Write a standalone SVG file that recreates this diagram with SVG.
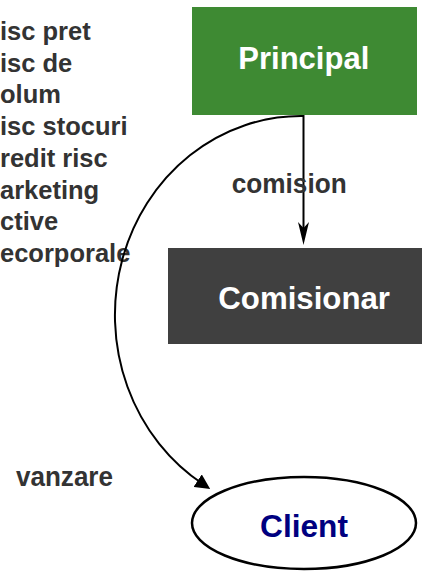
<svg xmlns="http://www.w3.org/2000/svg" width="422" height="571" viewBox="0 0 422 571">
  <style>
    text { font-family: "Liberation Sans", Arial, sans-serif; font-weight: bold; }
    .note { font-size: 25.5px; fill: #333333; }
    .lbl { font-size: 27.5px; fill: #333333; }
    .title { font-size: 30.5px; fill: #ffffff; }
    .conn { fill: none; stroke: #000000; stroke-width: 2; }
  </style>
  <defs>
    <marker id="stealth" viewBox="0 0 23 11" refX="15" refY="5.5" markerWidth="23" markerHeight="11" markerUnits="userSpaceOnUse" orient="auto">
      <path d="M0,0 L23,5.5 L0,11 L6,5.5 Z" fill="#000000"/>
    </marker>
    <marker id="tri" viewBox="0 0 15 15" refX="7" refY="7.5" markerWidth="15" markerHeight="15" markerUnits="userSpaceOnUse" orient="auto">
      <path d="M0,0 L15,7.5 L0,15 Z" fill="#000000"/>
    </marker>
  </defs>
  <rect width="422" height="571" fill="#ffffff"/>

  <g id="notes">
    <text class="note" x="0" y="40">isc pret</text>
    <text class="note" x="0" y="71.7">isc de</text>
    <text class="note" x="0" y="103.4">olum</text>
    <text class="note" x="0" y="135">isc stocuri</text>
    <text class="note" x="0" y="166.8">redit risc</text>
    <text class="note" x="0" y="198.5">arketing</text>
    <text class="note" x="0" y="230.2">ctive</text>
    <text class="note" x="0" y="262">ecorporale</text>
  </g>

  <g id="principal">
    <rect x="192" y="7" width="225" height="108" fill="#3e8a33"/>
    <text class="title" x="238.3" y="68.5" textLength="131" lengthAdjust="spacingAndGlyphs">Principal</text>
  </g>

  <g id="comisionar">
    <rect x="168" y="248" width="254" height="96" fill="#404040"/>
    <text class="title" x="218.3" y="308.5" textLength="171.7" lengthAdjust="spacingAndGlyphs">Comisionar</text>
  </g>

  <g id="client">
    <ellipse cx="304" cy="523" rx="112" ry="46" fill="#ffffff" stroke="#000000" stroke-width="2.5"/>
    <text x="260" y="537" font-size="30.5" fill="#000080" textLength="88" lengthAdjust="spacingAndGlyphs">Client</text>
  </g>

  <g id="connectors">
    <path id="e-comision" class="conn" d="M303.5,115 L303.5,237" stroke-width="2.3" marker-end="url(#stealth)"/>
    <path id="e-vanzare" class="conn" d="M303,116 A186,199 0 0 0 203.5,484.5" marker-end="url(#tri)"/>
    <text class="lbl" x="231.7" y="192.5" textLength="115" lengthAdjust="spacingAndGlyphs">comision</text>
    <text class="lbl" x="16" y="485.7" font-size="27" textLength="97" lengthAdjust="spacingAndGlyphs">vanzare</text>
  </g>
</svg>
